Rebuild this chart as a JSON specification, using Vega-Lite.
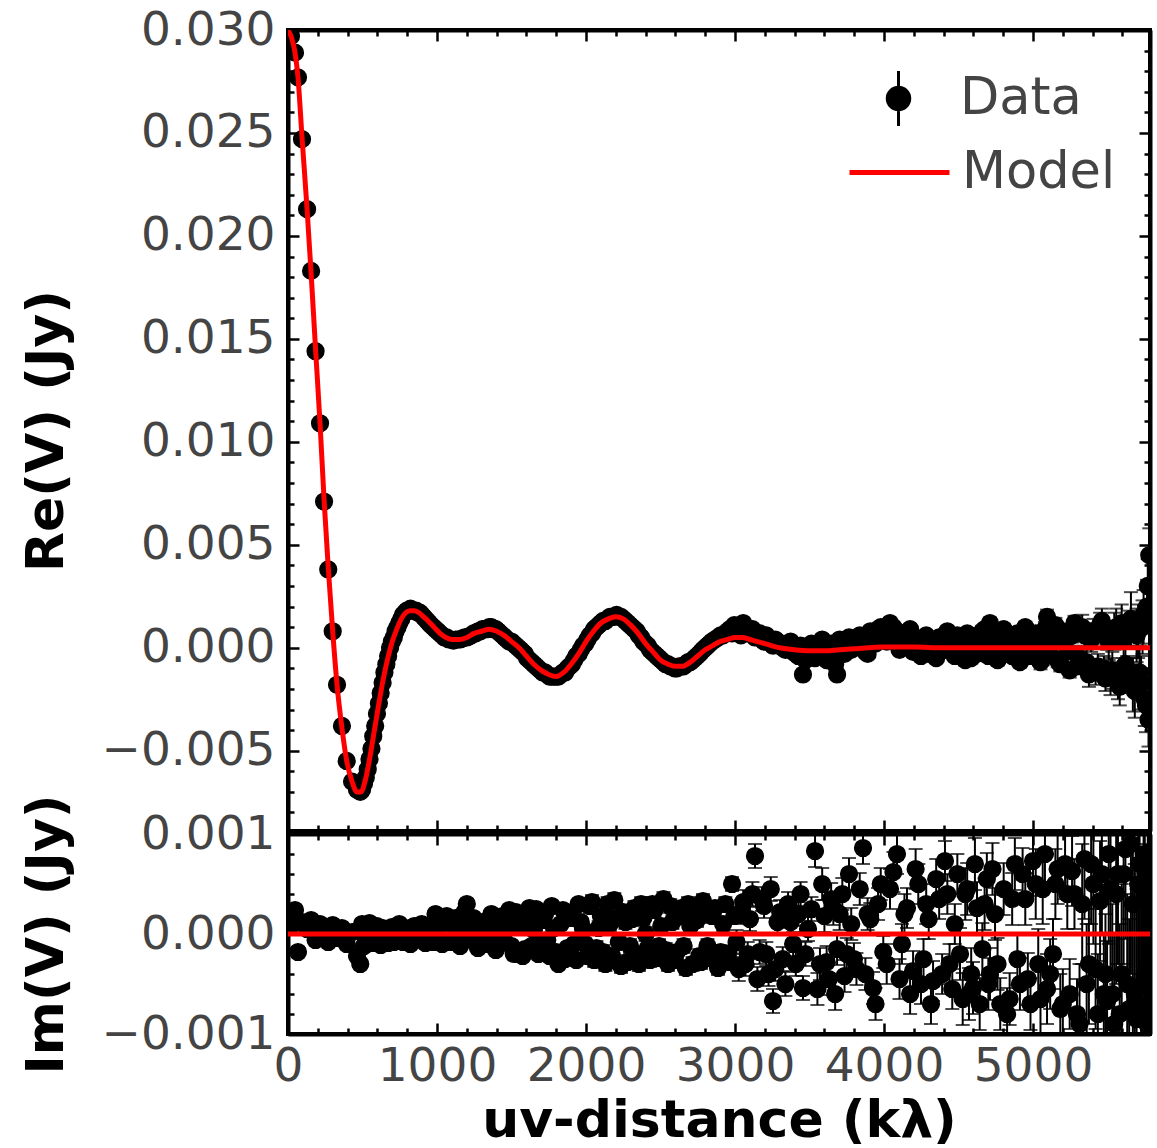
{
  "$schema": "https://vega.github.io/schema/vega-lite/v6.json",
  "background": "white",
  "padding": {"left": 18, "top": 4, "right": 5, "bottom": 5},
  "spacing": 3,
  "bounds": "flush",
  "config": {
    "font": "DejaVu Sans",
    "view": {"stroke": "black", "strokeWidth": 4},
    "axis": {
      "labelFont": "DejaVu Sans", "labelFontSize": 47, "labelColor": "#444",
      "titleFont": "DejaVu Sans", "titleFontSize": 52, "titleFontWeight": "bold", "titleColor": "black",
      "domainColor": "black", "domainWidth": 4, "tickColor": "black", "tickWidth": 2.5,
      "grid": false, "labelFlush": false, "labelOverlap": false, "labelBound": false
    },
    "legend": {"labelFont": "DejaVu Sans", "labelFontSize": 51, "labelColor": "#444", "symbolSize": 2500, "labelOffset": 35}
  },
  "datasets": {
    "obs": [
      {"u":20,"re":0.0297,"im":0.00008,"e":0.00003},
      {"u":47,"re":0.0289,"im":0.00024,"e":0.00003},
      {"u":67,"re":0.0277,"im":-0.00018,"e":0.00003},
      {"u":94,"re":0.0247,"im":0.00012,"e":0.00003},
      {"u":128,"re":0.0213,"im":0.00005,"e":0.00003},
      {"u":155,"re":0.0183,"im":0.00014,"e":0.00003},
      {"u":185,"re":0.0144,"im":-0.00006,"e":0.00003},
      {"u":215,"re":0.0109,"im":0.0001,"e":0.00003},
      {"u":242,"re":0.0071,"im":0.00003,"e":0.00003},
      {"u":270,"re":0.0038,"im":-0.00008,"e":0.00003},
      {"u":300,"re":0.0008,"im":0.00009,"e":0.00003},
      {"u":329,"re":-0.0018,"im":-0.00004,"e":0.00003},
      {"u":362,"re":-0.0038,"im":0.00006,"e":0.00003},
      {"u":394,"re":-0.0055,"im":-0.0001,"e":0.00003},
      {"u":430,"re":-0.0065,"im":0.00002,"e":0.00003},
      {"u":463,"re":-0.0069,"im":-0.00022,"e":0.00003},
      {"u":485,"re":-0.007,"im":-0.0003,"e":0.00003},
      {"u":510,"re":-0.0066,"im":-0.00012,"e":0.00003},
      {"u":535,"re":-0.0059,"im":0.00004,"e":0.00003},
      {"u":560,"re":-0.0049,"im":-0.00008,"e":0.00003},
      {"u":585,"re":-0.0038,"im":0.00005,"e":0.00003},
      {"u":610,"re":-0.0027,"im":-0.00003,"e":0.00003},
      {"u":635,"re":-0.0017,"im":0.00006,"e":0.00003},
      {"u":660,"re":-0.0008,"im":-0.00005,"e":0.00003},
      {"u":685,"re":0.0,"im":0.00002,"e":0.00003},
      {"u":710,"re":0.0005,"im":-0.00008,"e":0.00003},
      {"u":735,"re":0.001,"im":0.00004,"e":0.00003},
      {"u":760,"re":0.0014,"im":-0.00003,"e":0.00003},
      {"u":785,"re":0.0017,"im":0.00006,"e":0.00003},
      {"u":810,"re":0.0018,"im":-0.00006,"e":0.00003},
      {"u":835,"re":0.0018,"im":0.00003,"e":0.00003},
      {"u":860,"re":0.0018,"im":-0.00004,"e":0.00003},
      {"u":885,"re":0.0017,"im":0.00005,"e":0.00003},
      {"u":910,"re":0.0015,"im":-0.00007,"e":0.00003},
      {"u":935,"re":0.0013,"im":0.00002,"e":0.00003},
      {"u":960,"re":0.0011,"im":-0.00005,"e":0.00003},
      {"u":990,"re":0.0009,"im":0.0002,"e":0.00003},
      {"u":1020,"re":0.0007,"im":0.00008,"e":0.00004},
      {"u":1050,"re":0.0005,"im":-0.00006,"e":0.00004},
      {"u":1080,"re":0.0004,"im":0.00012,"e":0.00004},
      {"u":1110,"re":0.00035,"im":-0.00004,"e":0.00004},
      {"u":1140,"re":0.0004,"im":0.00009,"e":0.00004},
      {"u":1170,"re":0.00045,"im":0.00003,"e":0.00004},
      {"u":1200,"re":0.0005,"im":0.0003,"e":0.00004},
      {"u":1230,"re":0.0006,"im":0.00006,"e":0.00004},
      {"u":1260,"re":0.0007,"im":-0.00008,"e":0.00004},
      {"u":1290,"re":0.0008,"im":0.00012,"e":0.00004},
      {"u":1320,"re":0.0009,"im":-0.00003,"e":0.00004},
      {"u":1350,"re":0.001,"im":0.00015,"e":0.00004},
      {"u":1380,"re":0.0009,"im":0.00002,"e":0.00004},
      {"u":1410,"re":0.0008,"im":-0.0001,"e":0.00004},
      {"u":1440,"re":0.0006,"im":0.00018,"e":0.00004},
      {"u":1470,"re":0.0004,"im":0.00005,"e":0.00004},
      {"u":1500,"re":0.0003,"im":-0.00012,"e":0.00004},
      {"u":1530,"re":0.0001,"im":0.00022,"e":0.00004},
      {"u":1560,"re":-0.0001,"im":0.00008,"e":0.00004},
      {"u":1590,"re":-0.0003,"im":-0.00015,"e":0.00004},
      {"u":1620,"re":-0.0006,"im":0.00026,"e":0.00004},
      {"u":1650,"re":-0.0008,"im":0.00004,"e":0.00004},
      {"u":1680,"re":-0.001,"im":-0.0002,"e":0.00004},
      {"u":1710,"re":-0.0012,"im":0.00014,"e":0.00004},
      {"u":1740,"re":-0.0013,"im":-0.00006,"e":0.00004},
      {"u":1770,"re":-0.0014,"im":0.00028,"e":0.00004},
      {"u":1800,"re":-0.0014,"im":-0.00018,"e":0.00004},
      {"u":1830,"re":-0.0013,"im":0.0001,"e":0.00004},
      {"u":1860,"re":-0.0012,"im":-0.00025,"e":0.00004},
      {"u":1890,"re":-0.0009,"im":0.0002,"e":0.00004},
      {"u":1920,"re":-0.0006,"im":-0.0001,"e":0.00004},
      {"u":1950,"re":-0.0003,"im":0.0003,"e":0.00004},
      {"u":1980,"re":0.0001,"im":0.00005,"e":0.00004},
      {"u":2010,"re":0.0004,"im":-0.00022,"e":0.00007},
      {"u":2040,"re":0.0007,"im":0.00032,"e":0.00007},
      {"u":2070,"re":0.001,"im":-0.00014,"e":0.00007},
      {"u":2100,"re":0.0012,"im":0.00018,"e":0.00007},
      {"u":2130,"re":0.0013,"im":-0.0003,"e":0.00007},
      {"u":2160,"re":0.0015,"im":0.0001,"e":0.00007},
      {"u":2190,"re":0.0015,"im":0.00034,"e":0.00007},
      {"u":2220,"re":0.0015,"im":-0.00008,"e":0.00007},
      {"u":2250,"re":0.0014,"im":0.00022,"e":0.00007},
      {"u":2280,"re":0.0012,"im":-0.00028,"e":0.00007},
      {"u":2310,"re":0.001,"im":0.00015,"e":0.00007},
      {"u":2340,"re":0.0008,"im":-0.0002,"e":0.00007},
      {"u":2370,"re":0.0005,"im":0.0003,"e":0.00007},
      {"u":2400,"re":0.0002,"im":0.0,"e":0.00007},
      {"u":2430,"re":-0.0001,"im":-0.00026,"e":0.00007},
      {"u":2460,"re":-0.0003,"im":0.00024,"e":0.00007},
      {"u":2490,"re":-0.0005,"im":-0.00012,"e":0.00007},
      {"u":2520,"re":-0.0007,"im":0.00035,"e":0.00007},
      {"u":2550,"re":-0.0008,"im":-0.0003,"e":0.00007},
      {"u":2580,"re":-0.0009,"im":0.00012,"e":0.00007},
      {"u":2610,"re":-0.001,"im":-0.00018,"e":0.00007},
      {"u":2640,"re":-0.0009,"im":0.00026,"e":0.00007},
      {"u":2670,"re":-0.0008,"im":-0.00034,"e":0.00007},
      {"u":2700,"re":-0.0007,"im":0.00008,"e":0.00007},
      {"u":2730,"re":-0.0005,"im":0.0002,"e":0.00007},
      {"u":2760,"re":-0.0003,"im":-0.00022,"e":0.00007},
      {"u":2785,"re":-0.0001,"im":0.00033,"e":0.00007},
      {"u":2815,"re":0.0001,"im":-0.00012,"e":0.00007},
      {"u":2845,"re":0.0003,"im":0.00018,"e":0.00007},
      {"u":2886,"re":0.0005,"im":-0.00034,"e":0.00007},
      {"u":2920,"re":0.0006,"im":0.0001,"e":0.00007},
      {"u":2950,"re":0.0008,"im":-0.0002,"e":0.00007},
      {"u":2980,"re":0.0007,"im":0.0005,"e":0.00007},
      {"u":3010,"re":0.0009,"im":-0.00008,"e":0.00012},
      {"u":3040,"re":0.0006,"im":0.00022,"e":0.00012},
      {"u":3070,"re":0.001,"im":-0.0003,"e":0.00012},
      {"u":3100,"re":0.0008,"im":0.00015,"e":0.00012},
      {"u":3134,"re":0.0005,"im":0.00078,"e":0.00012},
      {"u":3165,"re":0.0007,"im":-0.00018,"e":0.00012},
      {"u":3195,"re":0.0003,"im":0.00028,"e":0.00012},
      {"u":3225,"re":0.0004,"im":-0.0004,"e":0.00012},
      {"u":3255,"re":0.0001,"im":-0.00067,"e":0.00012},
      {"u":3285,"re":0.0003,"im":0.00012,"e":0.00012},
      {"u":3320,"re":0.0,"im":-0.00025,"e":0.00012},
      {"u":3356,"re":0.0002,"im":0.0003,"e":0.00012},
      {"u":3390,"re":-0.0002,"im":-0.0001,"e":0.00012},
      {"u":3425,"re":-0.0004,"im":0.0002,"e":0.00012},
      {"u":3456,"re":-0.0013,"im":-0.00054,"e":0.00012},
      {"u":3490,"re":-0.0002,"im":0.00005,"e":0.00012},
      {"u":3537,"re":-0.0005,"im":0.00083,"e":0.00016},
      {"u":3570,"re":0.0001,"im":-0.0003,"e":0.00016},
      {"u":3600,"re":-0.0003,"im":0.00018,"e":0.00016},
      {"u":3630,"re":0.0,"im":-0.00045,"e":0.00016},
      {"u":3660,"re":-0.0004,"im":0.00025,"e":0.00016},
      {"u":3685,"re":-0.0013,"im":-0.00015,"e":0.00016},
      {"u":3720,"re":-0.0002,"im":0.0004,"e":0.00016},
      {"u":3750,"re":0.0003,"im":-0.0002,"e":0.00016},
      {"u":3780,"re":-0.0001,"im":0.0001,"e":0.00016},
      {"u":3815,"re":0.0004,"im":-0.00035,"e":0.00016},
      {"u":3859,"re":0.0,"im":0.00086,"e":0.00016},
      {"u":3890,"re":-0.0003,"im":0.0002,"e":0.00016},
      {"u":3926,"re":0.0006,"im":-0.00054,"e":0.00016},
      {"u":3960,"re":0.0009,"im":0.0003,"e":0.00016},
      {"u":3995,"re":0.0005,"im":-0.00018,"e":0.00016},
      {"u":4040,"re":0.0012,"im":0.00045,"e":0.0002},
      {"u":4087,"re":0.0008,"im":0.0008,"e":0.0002},
      {"u":4120,"re":0.0003,"im":-0.0001,"e":0.0002},
      {"u":4154,"re":0.0007,"im":0.00026,"e":0.0002},
      {"u":4195,"re":-0.0002,"im":-0.00037,"e":0.0002},
      {"u":4230,"re":0.0004,"im":0.0005,"e":0.0002},
      {"u":4265,"re":0.0001,"im":-0.00025,"e":0.0002},
      {"u":4300,"re":-0.0003,"im":0.00015,"e":0.0002},
      {"u":4329,"re":0.0002,"im":-0.00047,"e":0.0002},
      {"u":4370,"re":0.0005,"im":0.00035,"e":0.0002},
      {"u":4409,"re":-0.0001,"im":0.00073,"e":0.0002},
      {"u":4440,"re":0.0003,"im":-0.0003,"e":0.0002},
      {"u":4475,"re":-0.0004,"im":0.0001,"e":0.0002},
      {"u":4510,"re":0.0002,"im":-0.0002,"e":0.00026},
      {"u":4545,"re":-0.0006,"im":0.0004,"e":0.00026},
      {"u":4570,"re":0.0,"im":-0.0006,"e":0.00026},
      {"u":4597,"re":0.0005,"im":-0.00054,"e":0.00026},
      {"u":4624,"re":-0.0003,"im":0.00026,"e":0.00026},
      {"u":4660,"re":0.0008,"im":-0.00015,"e":0.00026},
      {"u":4690,"re":0.0003,"im":0.00055,"e":0.00026},
      {"u":4711,"re":0.0012,"im":-0.0004,"e":0.00026},
      {"u":4745,"re":-0.0002,"im":0.0002,"e":0.00026},
      {"u":4780,"re":0.0006,"im":-0.0007,"e":0.00026},
      {"u":4826,"re":0.0002,"im":-0.0008,"e":0.00026},
      {"u":4860,"re":-0.0004,"im":0.00035,"e":0.00026},
      {"u":4895,"re":0.0007,"im":-0.00025,"e":0.00026},
      {"u":4930,"re":0.0001,"im":0.0006,"e":0.00026},
      {"u":4965,"re":-0.0003,"im":-0.00045,"e":0.00026},
      {"u":5000,"re":0.0005,"im":0.00073,"e":0.00035},
      {"u":5035,"re":0.0002,"im":-0.0003,"e":0.00035},
      {"u":5065,"re":-0.0005,"im":0.00045,"e":0.00035},
      {"u":5094,"re":0.0015,"im":-0.00055,"e":0.00035},
      {"u":5134,"re":0.0003,"im":-0.0002,"e":0.00035},
      {"u":5165,"re":-0.0006,"im":0.00065,"e":0.00035},
      {"u":5200,"re":0.0008,"im":-0.0007,"e":0.00035},
      {"u":5230,"re":-0.0002,"im":0.0004,"e":0.00035},
      {"u":5262,"re":0.0006,"im":0.00063,"e":0.00035},
      {"u":5295,"re":-0.0009,"im":-0.0008,"e":0.00035},
      {"u":5330,"re":0.001,"im":0.0003,"e":0.0006},
      {"u":5360,"re":-0.0007,"im":-0.0005,"e":0.0006},
      {"u":5390,"re":0.0004,"im":0.0007,"e":0.0006},
      {"u":5420,"re":-0.0012,"im":-0.00035,"e":0.0006},
      {"u":5450,"re":0.0011,"im":0.00033,"e":0.0006},
      {"u":5475,"re":-0.001,"im":-0.0006,"e":0.0006},
      {"u":5497,"re":0.0005,"im":-0.00067,"e":0.0006},
      {"u":5520,"re":-0.0014,"im":0.00045,"e":0.0009},
      {"u":5545,"re":0.0008,"im":-0.0009,"e":0.0009},
      {"u":5570,"re":-0.0016,"im":0.0006,"e":0.0009},
      {"u":5595,"re":0.0012,"im":-0.0004,"e":0.0009},
      {"u":5620,"re":-0.0008,"im":0.00085,"e":0.0009},
      {"u":5645,"re":0.0009,"im":-0.00075,"e":0.0009},
      {"u":5670,"re":-0.0018,"im":0.0003,"e":0.0013},
      {"u":5695,"re":0.0006,"im":-0.00085,"e":0.0013},
      {"u":5715,"re":-0.0012,"im":0.0007,"e":0.0013},
      {"u":5735,"re":0.001,"im":-0.0005,"e":0.0013},
      {"u":5750,"re":-0.0025,"im":0.0004,"e":0.0013},
      {"u":5765,"re":0.002,"im":-0.0009,"e":0.0013},
      {"u":5775,"re":-0.0035,"im":0.0006,"e":0.0013},
      {"u":5780,"re":0.0045,"im":-0.0003,"e":0.0013},
      {"u":497,"re":-0.0069,"im":0.0001,"e":0.00003},
      {"u":522,"re":-0.0063,"im":-0.00005,"e":0.00003},
      {"u":547,"re":-0.0054,"im":0.00011,"e":0.00003},
      {"u":572,"re":-0.0043,"im":-0.00009,"e":0.00003},
      {"u":597,"re":-0.0032,"im":0.00008,"e":0.00003},
      {"u":622,"re":-0.0022,"im":-0.00011,"e":0.00003},
      {"u":647,"re":-0.0012,"im":0.00003,"e":0.00003},
      {"u":672,"re":-0.0004,"im":-0.00009,"e":0.00003},
      {"u":697,"re":0.0003,"im":0.00007,"e":0.00003},
      {"u":722,"re":0.0008,"im":-0.00004,"e":0.00003},
      {"u":747,"re":0.0012,"im":0.0001,"e":0.00003},
      {"u":772,"re":0.0016,"im":-0.00008,"e":0.00003},
      {"u":797,"re":0.0018,"im":0.00004,"e":0.00003},
      {"u":822,"re":0.0019,"im":-0.0001,"e":0.00003},
      {"u":847,"re":0.0018,"im":0.00008,"e":0.00003},
      {"u":872,"re":0.0017,"im":-0.00002,"e":0.00003},
      {"u":897,"re":0.0016,"im":0.0001,"e":0.00003},
      {"u":922,"re":0.0014,"im":-0.00009,"e":0.00003},
      {"u":947,"re":0.0012,"im":0.00006,"e":0.00003},
      {"u":975,"re":0.001,"im":-0.00008,"e":0.00003},
      {"u":1005,"re":0.0008,"im":0.00014,"e":0.00004},
      {"u":1035,"re":0.0006,"im":-0.0001,"e":0.00004},
      {"u":1065,"re":0.0005,"im":0.00018,"e":0.00004},
      {"u":1095,"re":0.0004,"im":-0.00008,"e":0.00004},
      {"u":1125,"re":0.0004,"im":0.00016,"e":0.00004},
      {"u":1155,"re":0.0004,"im":-0.00012,"e":0.00004},
      {"u":1185,"re":0.0005,"im":0.00022,"e":0.00004},
      {"u":1215,"re":0.00055,"im":-0.00005,"e":0.00004},
      {"u":1245,"re":0.0007,"im":0.00016,"e":0.00004},
      {"u":1275,"re":0.0008,"im":-0.00014,"e":0.00004},
      {"u":1305,"re":0.0009,"im":0.00008,"e":0.00004},
      {"u":1335,"re":0.0009,"im":-0.0001,"e":0.00004},
      {"u":1365,"re":0.001,"im":0.0002,"e":0.00004},
      {"u":1395,"re":0.0009,"im":-0.00016,"e":0.00004},
      {"u":1425,"re":0.0007,"im":0.0001,"e":0.00004},
      {"u":1455,"re":0.0005,"im":-0.00008,"e":0.00004},
      {"u":1485,"re":0.0003,"im":0.00024,"e":0.00004},
      {"u":1515,"re":0.0002,"im":-0.0002,"e":0.00004},
      {"u":1545,"re":0.0,"im":0.00012,"e":0.00004},
      {"u":1575,"re":-0.0002,"im":-0.00022,"e":0.00004},
      {"u":1605,"re":-0.0005,"im":0.00016,"e":0.00004},
      {"u":1635,"re":-0.0007,"im":-0.00012,"e":0.00004},
      {"u":1665,"re":-0.0009,"im":0.00025,"e":0.00004},
      {"u":1695,"re":-0.0011,"im":-0.00008,"e":0.00004},
      {"u":1725,"re":-0.0012,"im":0.0002,"e":0.00004},
      {"u":1755,"re":-0.0014,"im":-0.00022,"e":0.00004},
      {"u":1785,"re":-0.0014,"im":0.00006,"e":0.00004},
      {"u":1815,"re":-0.0014,"im":-0.0003,"e":0.00004},
      {"u":1845,"re":-0.0012,"im":0.00024,"e":0.00004},
      {"u":1875,"re":-0.001,"im":-0.00014,"e":0.00004},
      {"u":1905,"re":-0.0008,"im":0.00016,"e":0.00004},
      {"u":1935,"re":-0.0004,"im":-0.00026,"e":0.00004},
      {"u":1965,"re":-0.0001,"im":0.00012,"e":0.00004},
      {"u":1995,"re":0.0002,"im":-0.0001,"e":0.00004},
      {"u":2025,"re":0.0006,"im":0.00028,"e":0.00007},
      {"u":2055,"re":0.0009,"im":-0.00026,"e":0.00007},
      {"u":2085,"re":0.0011,"im":0.00006,"e":0.00007},
      {"u":2115,"re":0.0013,"im":-0.00018,"e":0.00007},
      {"u":2145,"re":0.0014,"im":0.0003,"e":0.00007},
      {"u":2175,"re":0.0015,"im":-0.00022,"e":0.00007},
      {"u":2205,"re":0.0016,"im":0.00016,"e":0.00007},
      {"u":2235,"re":0.0015,"im":-0.00032,"e":0.00007},
      {"u":2265,"re":0.0013,"im":0.00012,"e":0.00007},
      {"u":2295,"re":0.0011,"im":-0.00012,"e":0.00007},
      {"u":2325,"re":0.0009,"im":0.00026,"e":0.00007},
      {"u":2355,"re":0.0006,"im":-0.0003,"e":0.00007},
      {"u":2385,"re":0.0003,"im":0.00016,"e":0.00007},
      {"u":2415,"re":0.0001,"im":-0.00014,"e":0.00007},
      {"u":2445,"re":-0.0002,"im":0.0003,"e":0.00007},
      {"u":2475,"re":-0.0004,"im":-0.00024,"e":0.00007},
      {"u":2505,"re":-0.0006,"im":0.00008,"e":0.00007},
      {"u":2535,"re":-0.0008,"im":-0.00016,"e":0.00007},
      {"u":2565,"re":-0.0009,"im":0.00028,"e":0.00007},
      {"u":2595,"re":-0.001,"im":-0.00026,"e":0.00007},
      {"u":2625,"re":-0.0009,"im":0.00018,"e":0.00007},
      {"u":2655,"re":-0.0009,"im":-0.00012,"e":0.00007},
      {"u":2685,"re":-0.0007,"im":0.0003,"e":0.00007},
      {"u":2715,"re":-0.0006,"im":-0.0003,"e":0.00007},
      {"u":2745,"re":-0.0004,"im":0.00014,"e":0.00007},
      {"u":2772,"re":-0.0002,"im":-0.00028,"e":0.00007},
      {"u":2800,"re":0.0,"im":0.0002,"e":0.00007},
      {"u":2830,"re":0.0002,"im":-0.00024,"e":0.00007},
      {"u":2865,"re":0.0004,"im":0.00026,"e":0.00007},
      {"u":2903,"re":0.0006,"im":-0.00018,"e":0.00007},
      {"u":2935,"re":0.0007,"im":0.0003,"e":0.00007},
      {"u":2965,"re":0.0009,"im":-0.00028,"e":0.00007},
      {"u":2995,"re":0.0011,"im":0.00018,"e":0.00007},
      {"u":3025,"re":0.0008,"im":-0.00035,"e":0.00012},
      {"u":3055,"re":0.0012,"im":0.00032,"e":0.00012},
      {"u":3085,"re":0.0007,"im":-0.0002,"e":0.00012},
      {"u":3117,"re":0.0009,"im":0.0004,"e":0.00012},
      {"u":3150,"re":0.0006,"im":-0.00045,"e":0.00012},
      {"u":3180,"re":0.0004,"im":0.00035,"e":0.00012},
      {"u":3210,"re":0.0006,"im":-0.0002,"e":0.00012},
      {"u":3240,"re":0.0002,"im":0.00045,"e":0.00012},
      {"u":3270,"re":0.0004,"im":-0.00035,"e":0.00012},
      {"u":3303,"re":0.0001,"im":0.00022,"e":0.00012},
      {"u":3338,"re":-0.0001,"im":-0.0005,"e":0.00012},
      {"u":3373,"re":0.0003,"im":0.00012,"e":0.00012},
      {"u":3408,"re":-0.0003,"im":-0.0003,"e":0.00012},
      {"u":3440,"re":0.0001,"im":0.0004,"e":0.00012},
      {"u":3473,"re":-0.0006,"im":-0.0002,"e":0.00012},
      {"u":3513,"re":0.0002,"im":0.00025,"e":0.00012},
      {"u":3553,"re":-0.0004,"im":-0.00055,"e":0.00016},
      {"u":3585,"re":0.0004,"im":0.0005,"e":0.00016},
      {"u":3615,"re":-0.0006,"im":-0.00028,"e":0.00016},
      {"u":3645,"re":0.0002,"im":0.00035,"e":0.00016},
      {"u":3672,"re":-0.0008,"im":-0.0006,"e":0.00016},
      {"u":3702,"re":0.0004,"im":0.0002,"e":0.00016},
      {"u":3735,"re":-0.0003,"im":-0.00042,"e":0.00016},
      {"u":3765,"re":0.0005,"im":0.0006,"e":0.00016},
      {"u":3798,"re":0.0,"im":-0.00025,"e":0.00016},
      {"u":3837,"re":0.0006,"im":0.00045,"e":0.00016},
      {"u":3875,"re":-0.0002,"im":-0.0004,"e":0.00016},
      {"u":3908,"re":0.0008,"im":0.00015,"e":0.00016},
      {"u":3943,"re":0.0002,"im":-0.0007,"e":0.00016},
      {"u":3978,"re":0.001,"im":0.0005,"e":0.00016},
      {"u":4018,"re":0.0003,"im":-0.0003,"e":0.0002},
      {"u":4063,"re":0.001,"im":0.00062,"e":0.0002},
      {"u":4104,"re":-0.0001,"im":-0.00045,"e":0.0002},
      {"u":4137,"re":0.0005,"im":0.0002,"e":0.0002},
      {"u":4175,"re":0.0009,"im":-0.0006,"e":0.0002},
      {"u":4212,"re":0.0002,"im":0.00065,"e":0.0002},
      {"u":4248,"re":-0.0004,"im":-0.0005,"e":0.0002},
      {"u":4283,"re":0.0006,"im":0.0003,"e":0.0002},
      {"u":4315,"re":0.0,"im":-0.0007,"e":0.0002},
      {"u":4350,"re":-0.0005,"im":0.00055,"e":0.0002},
      {"u":4390,"re":0.0004,"im":-0.0004,"e":0.0002},
      {"u":4425,"re":0.0008,"im":0.0004,"e":0.0002},
      {"u":4458,"re":-0.0002,"im":-0.00055,"e":0.0002},
      {"u":4492,"re":0.0006,"im":0.0006,"e":0.0002},
      {"u":4528,"re":-0.0003,"im":-0.00065,"e":0.00026},
      {"u":4558,"re":0.0007,"im":0.00045,"e":0.00026},
      {"u":4585,"re":-0.0005,"im":-0.0004,"e":0.00026},
      {"u":4610,"re":0.0004,"im":0.0007,"e":0.00026},
      {"u":4642,"re":-0.0001,"im":-0.0007,"e":0.00026},
      {"u":4675,"re":0.0009,"im":0.0003,"e":0.00026},
      {"u":4700,"re":-0.0004,"im":-0.0005,"e":0.00026},
      {"u":4728,"re":0.0005,"im":0.00065,"e":0.00026},
      {"u":4762,"re":-0.0006,"im":-0.0003,"e":0.00026},
      {"u":4803,"re":0.0009,"im":0.00045,"e":0.00026},
      {"u":4843,"re":-0.0002,"im":-0.00065,"e":0.00026},
      {"u":4878,"re":0.0004,"im":0.0007,"e":0.00026},
      {"u":4912,"re":-0.0007,"im":-0.0005,"e":0.00026},
      {"u":4948,"re":0.001,"im":0.00035,"e":0.00026},
      {"u":4983,"re":-0.0004,"im":-0.0007,"e":0.00026},
      {"u":5018,"re":0.0007,"im":0.0005,"e":0.00035},
      {"u":5050,"re":-0.0007,"im":-0.00065,"e":0.00035},
      {"u":5080,"re":0.0009,"im":0.0008,"e":0.00035},
      {"u":5115,"re":-0.0003,"im":-0.0004,"e":0.00035},
      {"u":5150,"re":0.0011,"im":0.0005,"e":0.00035},
      {"u":5183,"re":-0.0008,"im":-0.00075,"e":0.00035},
      {"u":5215,"re":0.0004,"im":0.0007,"e":0.00035},
      {"u":5246,"re":-0.0011,"im":-0.0006,"e":0.00035},
      {"u":5278,"re":0.0012,"im":0.0004,"e":0.00035},
      {"u":5312,"re":-0.0005,"im":-0.0009,"e":0.0006},
      {"u":5345,"re":0.0006,"im":0.00075,"e":0.0006},
      {"u":5375,"re":-0.0013,"im":-0.0003,"e":0.0006},
      {"u":5405,"re":0.0008,"im":0.0005,"e":0.0006},
      {"u":5435,"re":-0.0009,"im":-0.0008,"e":0.0006},
      {"u":5462,"re":0.0013,"im":0.0006,"e":0.0006},
      {"u":5486,"re":-0.0015,"im":-0.0004,"e":0.0006},
      {"u":5508,"re":0.0003,"im":0.0008,"e":0.0009},
      {"u":5532,"re":-0.0011,"im":-0.0006,"e":0.0009},
      {"u":5558,"re":0.001,"im":0.0004,"e":0.0009},
      {"u":5582,"re":-0.0019,"im":-0.0008,"e":0.0009},
      {"u":5608,"re":0.0004,"im":0.0006,"e":0.0009},
      {"u":5632,"re":-0.0013,"im":-0.0005,"e":0.0009},
      {"u":5657,"re":0.0014,"im":0.0009,"e":0.0013},
      {"u":5683,"re":-0.0021,"im":-0.0006,"e":0.0013},
      {"u":5705,"re":0.0008,"im":0.0005,"e":0.0013},
      {"u":5725,"re":-0.0017,"im":-0.0007,"e":0.0013},
      {"u":5742,"re":0.0015,"im":0.0008,"e":0.0013},
      {"u":5758,"re":-0.0028,"im":-0.0004,"e":0.0013},
      {"u":5770,"re":0.003,"im":0.0007,"e":0.0013}
    ],
    "model": [
      {"u":0,"m":0.03},{"u":25,"m":0.0296},{"u":47,"m":0.0289},{"u":67,"m":0.0277},{"u":94,"m":0.0248},
      {"u":128,"m":0.0213},{"u":155,"m":0.0182},{"u":185,"m":0.0145},{"u":215,"m":0.0109},{"u":242,"m":0.0072},
      {"u":270,"m":0.0039},{"u":300,"m":0.0008},{"u":329,"m":-0.0018},{"u":362,"m":-0.0039},{"u":394,"m":-0.0055},
      {"u":430,"m":-0.0065},{"u":463,"m":-0.007},{"u":490,"m":-0.007},{"u":520,"m":-0.0064},{"u":550,"m":-0.0053},
      {"u":580,"m":-0.004},{"u":610,"m":-0.0027},{"u":640,"m":-0.0015},{"u":670,"m":-0.0005},{"u":700,"m":0.0003},
      {"u":730,"m":0.0009},{"u":760,"m":0.0014},{"u":790,"m":0.0017},{"u":820,"m":0.0018},{"u":850,"m":0.0018},
      {"u":880,"m":0.0017},{"u":910,"m":0.0015},{"u":940,"m":0.0013},{"u":980,"m":0.001},{"u":1020,"m":0.0007},
      {"u":1060,"m":0.0005},{"u":1100,"m":0.0004},{"u":1150,"m":0.0004},{"u":1200,"m":0.0005},{"u":1250,"m":0.0007},
      {"u":1300,"m":0.0008},{"u":1350,"m":0.0009},{"u":1400,"m":0.0008},{"u":1450,"m":0.0006},{"u":1500,"m":0.0003},
      {"u":1550,"m":0.0},{"u":1600,"m":-0.0004},{"u":1650,"m":-0.0008},{"u":1700,"m":-0.0011},{"u":1750,"m":-0.0013},
      {"u":1800,"m":-0.0014},{"u":1850,"m":-0.0012},{"u":1900,"m":-0.0008},{"u":1950,"m":-0.0003},{"u":2000,"m":0.0003},
      {"u":2050,"m":0.0008},{"u":2100,"m":0.0012},{"u":2150,"m":0.0014},{"u":2200,"m":0.0015},{"u":2250,"m":0.0014},
      {"u":2300,"m":0.0011},{"u":2350,"m":0.0007},{"u":2400,"m":0.0002},{"u":2450,"m":-0.0002},{"u":2500,"m":-0.0006},
      {"u":2550,"m":-0.0008},{"u":2600,"m":-0.0009},{"u":2650,"m":-0.0009},{"u":2700,"m":-0.0007},{"u":2750,"m":-0.0004},
      {"u":2800,"m":-0.0001},{"u":2850,"m":0.0001},{"u":2900,"m":0.0003},{"u":2950,"m":0.0004},{"u":3000,"m":0.0005},
      {"u":3050,"m":0.0005},{"u":3100,"m":0.0004},{"u":3150,"m":0.0003},{"u":3200,"m":0.0002},{"u":3300,"m":0.0},
      {"u":3400,"m":-0.0001},{"u":3500,"m":-0.00015},{"u":3600,"m":-0.00015},{"u":3700,"m":-0.0001},{"u":3800,"m":-0.00005},
      {"u":3900,"m":0.0},{"u":4000,"m":0.00003},{"u":4200,"m":0.00003},{"u":4400,"m":0.0},{"u":5785,"m":0.0}
    ],
    "imodel": [{"u":0,"m":0.0},{"u":5785,"m":0.0}]
  },
  "resolve": {"scale": {"color": "independent"}, "legend": {"color": "independent"}},
  "vconcat": [
    {
      "width": 862, "height": 801,
      "resolve": {"axis": {"x": "independent", "y": "independent"}, "scale": {"color": "independent"}, "legend": {"color": "independent"}},
      "layer": [
        {
          "data": {"name": "obs"},
          "mark": {"type": "errorbar", "ticks": {"size": 14}, "thickness": 2, "color": "black", "clip": true},
          "encoding": {
            "x": {"field": "u", "type": "quantitative", "scale": {"domain": [0, 5785]}, "axis": null},
            "y": {"field": "re", "type": "quantitative", "scale": {"domain": [-0.0089, 0.03]}, "axis": null},
            "yError": {"field": "e"}
          }
        },
        {
          "data": {"name": "obs"},
          "mark": {"type": "circle", "size": 280, "opacity": 1, "stroke": "black", "strokeWidth": 1.5, "clip": true},
          "encoding": {
            "x": {"field": "u", "type": "quantitative", "scale": {"domain": [0, 5785]},
              "axis": {"orient": "bottom", "labels": false, "title": null,
                "values": [0,200,400,600,800,1000,1200,1400,1600,1800,2000,2200,2400,2600,2800,3000,3200,3400,3600,3800,4000,4200,4400,4600,4800,5000,5200,5400,5600],
                "tickSize": {"condition": {"test": "datum.value % 1000 === 0", "value": -11}, "value": -6}}},
            "y": {"field": "re", "type": "quantitative", "scale": {"domain": [-0.0089, 0.03]},
              "axis": {"orient": "left", "title": "Re(V) (Jy)", "format": ".3f", "titlePadding": 28, "labelPadding": 24,
                "values": [-0.008,-0.007,-0.006,-0.005,-0.004,-0.003,-0.002,-0.001,0,0.001,0.002,0.003,0.004,0.005,0.006,0.007,0.008,0.009,0.01,0.011,0.012,0.013,0.014,0.015,0.016,0.017,0.018,0.019,0.02,0.021,0.022,0.023,0.024,0.025,0.026,0.027,0.028,0.029,0.03],
                "labelExpr": "abs(round(datum.value*200) - datum.value*200) < 1e-6 ? datum.label : ''",
                "tickSize": {"condition": {"test": "abs(round(datum.value*200) - datum.value*200) < 1e-6", "value": -11}, "value": -6}}},
            "color": {"datum": "Data", "scale": {"domain": ["Data"], "range": ["black"]},
              "legend": {"title": null, "orient": "none", "legendX": 584, "legendY": 42,
                "symbolType": "M0,-1.1V1.1M-0.45,0A0.45,0.45,0,1,0,0.45,0A0.45,0.45,0,1,0,-0.45,0Z",
                "symbolStrokeColor": "black", "symbolStrokeWidth": 3, "symbolFillColor": "black"}}
          }
        },
        {
          "data": {"name": "model"},
          "mark": {"type": "line", "strokeWidth": 5, "interpolate": "monotone", "clip": true},
          "encoding": {
            "x": {"field": "u", "type": "quantitative", "scale": {"domain": [0, 5785]},
              "axis": {"orient": "top", "labels": false, "title": null,
                "values": [0,200,400,600,800,1000,1200,1400,1600,1800,2000,2200,2400,2600,2800,3000,3200,3400,3600,3800,4000,4200,4400,4600,4800,5000,5200,5400,5600],
                "tickSize": {"condition": {"test": "datum.value % 1000 === 0", "value": -11}, "value": -6}}},
            "y": {"field": "m", "type": "quantitative", "scale": {"domain": [-0.0089, 0.03]},
              "axis": {"orient": "right", "labels": false, "title": null,
                "values": [-0.008,-0.007,-0.006,-0.005,-0.004,-0.003,-0.002,-0.001,0,0.001,0.002,0.003,0.004,0.005,0.006,0.007,0.008,0.009,0.01,0.011,0.012,0.013,0.014,0.015,0.016,0.017,0.018,0.019,0.02,0.021,0.022,0.023,0.024,0.025,0.026,0.027,0.028,0.029,0.03],
                "tickSize": {"condition": {"test": "abs(round(datum.value*200) - datum.value*200) < 1e-6", "value": -11}, "value": -6}}},
            "color": {"datum": "Model", "scale": {"domain": ["Model"], "range": ["red"]},
              "legend": {"title": null, "orient": "none", "legendX": 584, "legendY": 115,
                "symbolType": "M-2,0H2", "symbolStrokeColor": "red", "symbolStrokeWidth": 5}}
          }
        }
      ]
    },
    {
      "width": 862, "height": 200,
      "resolve": {"axis": {"x": "independent", "y": "independent"}},
      "layer": [
        {
          "data": {"name": "obs"},
          "mark": {"type": "errorbar", "ticks": {"size": 14}, "thickness": 2, "color": "black", "clip": true},
          "encoding": {
            "x": {"field": "u", "type": "quantitative", "scale": {"domain": [0, 5785]}, "axis": null},
            "y": {"field": "im", "type": "quantitative", "scale": {"domain": [-0.001, 0.001]}, "axis": null},
            "yError": {"field": "e"}
          }
        },
        {
          "data": {"name": "obs"},
          "mark": {"type": "circle", "size": 280, "opacity": 1, "color": "black", "stroke": "black", "strokeWidth": 1.5, "clip": true},
          "encoding": {
            "x": {"field": "u", "type": "quantitative", "scale": {"domain": [0, 5785]},
              "axis": {"orient": "bottom", "title": "uv-distance (kλ)", "format": "d", "labelPadding": 20, "titlePadding": 1,
                "values": [0,200,400,600,800,1000,1200,1400,1600,1800,2000,2200,2400,2600,2800,3000,3200,3400,3600,3800,4000,4200,4400,4600,4800,5000,5200,5400,5600],
                "labelExpr": "datum.value % 1000 === 0 ? datum.label : ''",
                "tickSize": {"condition": {"test": "datum.value % 1000 === 0", "value": -11}, "value": -6}}},
            "y": {"field": "im", "type": "quantitative", "scale": {"domain": [-0.001, 0.001]},
              "axis": {"orient": "left", "title": "Im(V) (Jy)", "format": ".3f", "titlePadding": 28, "labelPadding": 24,
                "values": [-0.001,-0.0008,-0.0006,-0.0004,-0.0002,0,0.0002,0.0004,0.0006,0.0008,0.001],
                "labelExpr": "abs(round(datum.value*1000) - datum.value*1000) < 1e-6 ? datum.label : ''",
                "tickSize": {"condition": {"test": "abs(round(datum.value*1000) - datum.value*1000) < 1e-6", "value": -11}, "value": -6}}}
          }
        },
        {
          "data": {"name": "imodel"},
          "mark": {"type": "line", "strokeWidth": 5, "color": "red", "clip": true},
          "encoding": {
            "x": {"field": "u", "type": "quantitative", "scale": {"domain": [0, 5785]},
              "axis": {"orient": "top", "labels": false, "title": null,
                "values": [0,200,400,600,800,1000,1200,1400,1600,1800,2000,2200,2400,2600,2800,3000,3200,3400,3600,3800,4000,4200,4400,4600,4800,5000,5200,5400,5600],
                "tickSize": {"condition": {"test": "datum.value % 1000 === 0", "value": -11}, "value": -6}}},
            "y": {"field": "m", "type": "quantitative", "scale": {"domain": [-0.001, 0.001]},
              "axis": {"orient": "right", "labels": false, "title": null,
                "values": [-0.001,-0.0008,-0.0006,-0.0004,-0.0002,0,0.0002,0.0004,0.0006,0.0008,0.001],
                "tickSize": {"condition": {"test": "abs(round(datum.value*1000) - datum.value*1000) < 1e-6", "value": -11}, "value": -6}}}
          }
        }
      ]
    }
  ]
}
